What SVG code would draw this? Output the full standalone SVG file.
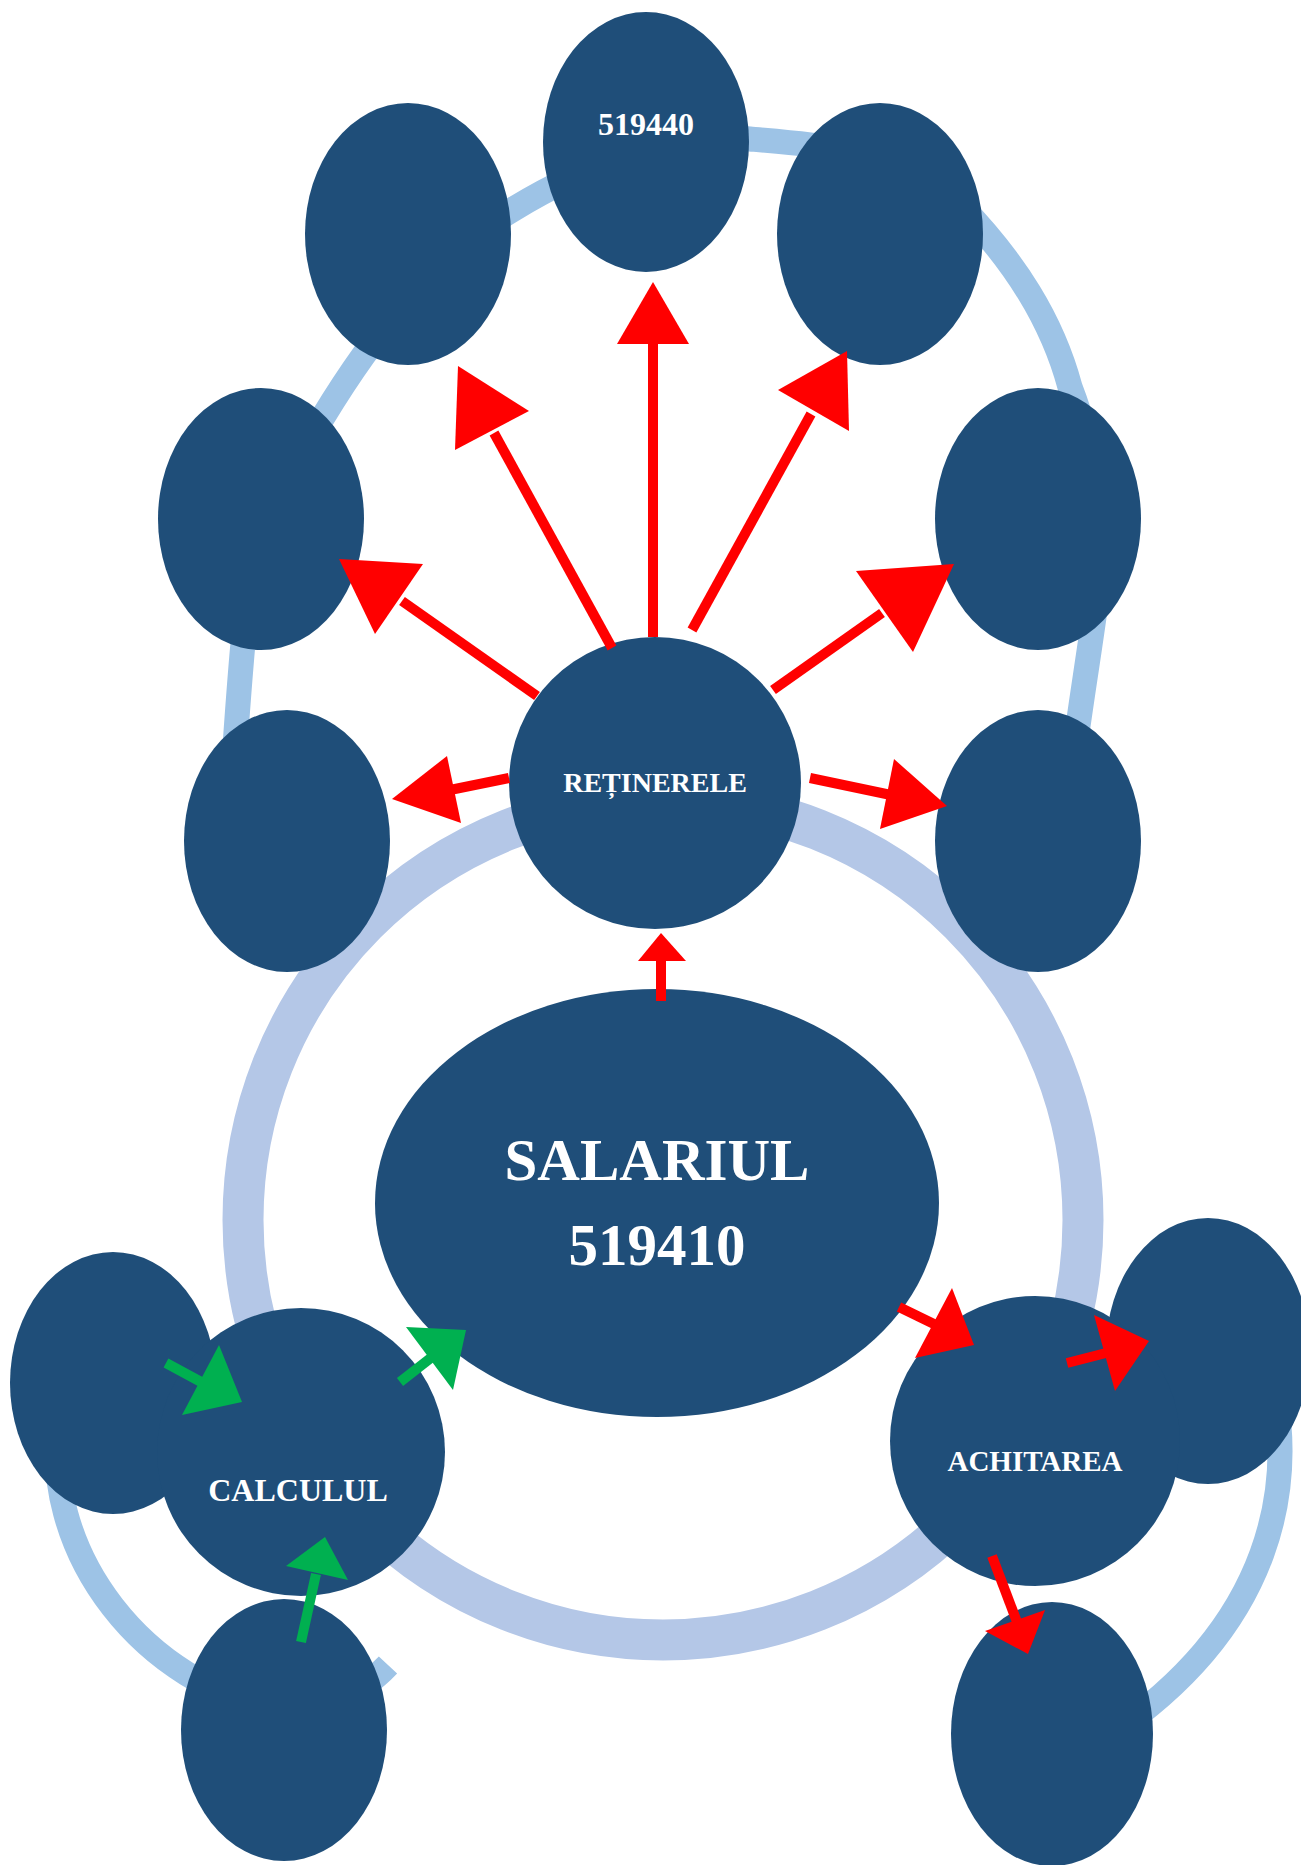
<svg xmlns="http://www.w3.org/2000/svg" width="1301" height="1865" viewBox="0 0 1301 1865">
<style>
.node{fill:#1F4E79}
.ring{fill:none;stroke:#B4C7E7;stroke-width:41}
.arc{fill:none;stroke:#9DC3E6;stroke-width:25}
.rl{stroke:#FF0000;stroke-width:10;fill:none}
.rh{fill:#FF0000}
.gl{stroke:#00B050;stroke-width:10;fill:none}
.gh{fill:#00B050}
.lbl{font-family:"Liberation Serif","Times New Roman",serif;font-weight:bold;fill:#FFFFFF;text-anchor:middle}
</style>
<rect width="1301" height="1865" fill="#FFFFFF"/>
<g id="backdrop">
<circle class="ring" cx="663" cy="1220" r="420"/>
<path class="arc" d="M 233 775 C 236 731, 239 687, 243 643 C 251 563, 281 485, 323 417 C 371 338, 432 258, 512 210 C 583 167, 667 132, 750 139 C 820 145, 915 152, 960 205 C 1015 262, 1052 320, 1070 387 C 1098 459, 1104 541, 1094 617 C 1087 667, 1078 722, 1072 770"/>
<path class="arc" d="M 62 1400 C 30 1560, 160 1690, 270 1705 C 320 1712, 360 1695, 388 1665"/>
<path class="arc" d="M 1275 1395 C 1290 1480, 1280 1620, 1110 1735"/>
</g>
<g id="n-top"><ellipse class="node" cx="646" cy="142" rx="103" ry="130"/><text class="lbl" x="646" y="135" font-size="32">519440</text></g>
<g id="n-topleft"><ellipse class="node" cx="408" cy="234" rx="103" ry="131"/></g>
<g id="n-topright"><ellipse class="node" cx="880" cy="234" rx="103" ry="131"/></g>
<g id="n-midleft"><ellipse class="node" cx="261" cy="519" rx="103" ry="131"/></g>
<g id="n-midright"><ellipse class="node" cx="1038" cy="519" rx="103" ry="131"/></g>
<g id="n-lowleft"><ellipse class="node" cx="287" cy="841" rx="103" ry="131"/></g>
<g id="n-lowright"><ellipse class="node" cx="1038" cy="841" rx="103" ry="131"/></g>
<g id="n-retinerele"><circle class="node" cx="655" cy="783" r="146"/><text class="lbl" x="655" y="792" font-size="28">REȚINERELE</text></g>
<g id="n-salariul"><ellipse class="node" cx="657" cy="1203" rx="282" ry="214"/><text class="lbl" x="657" y="1180" font-size="59">SALARIUL</text><text class="lbl" x="657" y="1265" font-size="59">519410</text></g>
<g id="n-calc-left"><ellipse class="node" cx="113" cy="1383" rx="103" ry="131"/></g>
<g id="n-calc-bottom"><ellipse class="node" cx="284" cy="1730" rx="103" ry="131"/></g>
<g id="n-calculul"><circle class="node" cx="301" cy="1452" r="144"/><text class="lbl" x="298" y="1501" font-size="32">CALCULUL</text></g>
<g id="n-ach-right"><ellipse class="node" cx="1208" cy="1351" rx="102" ry="133"/></g>
<g id="n-ach-bottom"><ellipse class="node" cx="1052" cy="1734" rx="101" ry="132"/></g>
<g id="n-achitarea"><circle class="node" cx="1035" cy="1441" r="145"/><text class="lbl" x="1035" y="1471" font-size="29">ACHITAREA</text></g>
<g id="connectors">
<line class="rl" x1="653" y1="637" x2="653" y2="340"/>
<polygon class="rh" points="653,282 617,344 689,344"/>
<line class="rl" x1="612" y1="648" x2="494" y2="433"/>
<polygon class="rh" points="458,366 455,450 529,411"/>
<line class="rl" x1="692" y1="630" x2="811" y2="414"/>
<polygon class="rh" points="847,351 778,390 849,431"/>
<line class="rl" x1="537" y1="696" x2="402" y2="601"/>
<polygon class="rh" points="339,559 375,634 423,564"/>
<line class="rl" x1="773" y1="690" x2="882" y2="613"/>
<polygon class="rh" points="954,564 856,571 913,652"/>
<line class="rl" x1="509" y1="778" x2="450" y2="790"/>
<polygon class="rh" points="392,799 447,756 461,823"/>
<line class="rl" x1="810" y1="778" x2="891" y2="795"/>
<polygon class="rh" points="947,806 894,759 880,829"/>
<line class="rl" x1="661" y1="1001" x2="661" y2="958"/>
<polygon class="rh" points="661,933 638,961 686,961"/>
<line class="gl" x1="166" y1="1363" x2="203" y2="1383"/>
<polygon class="gh" points="242,1402 182,1415 219,1345"/>
<line class="gl" x1="400" y1="1382" x2="432" y2="1357"/>
<polygon class="gh" points="466,1330 406,1327 453,1390"/>
<line class="gl" x1="301" y1="1642" x2="316" y2="1574"/>
<polygon class="gh" points="325,1537 286,1566 348,1580"/>
<line class="rl" x1="899" y1="1307" x2="936" y2="1325"/>
<polygon class="rh" points="974,1345 952,1288 915,1358"/>
<line class="rl" x1="1067" y1="1363" x2="1106" y2="1353"/>
<polygon class="rh" points="1149,1341 1094,1315 1115,1391"/>
<line class="rl" x1="992" y1="1556" x2="1017" y2="1622"/>
<polygon class="rh" points="1028,1654 985,1631 1045,1610"/>
</g>
</svg>
